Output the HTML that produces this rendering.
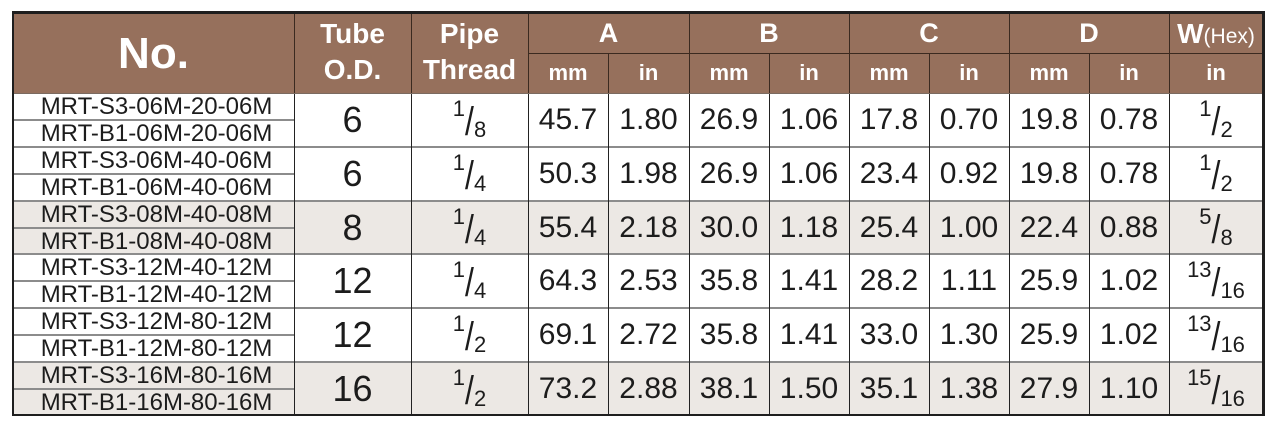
<!DOCTYPE html>
<html><head><meta charset="utf-8">
<style>
html,body{margin:0;padding:0;background:#fff;}
body{width:1279px;height:433px;position:relative;overflow:hidden;font-family:"Liberation Sans",Arial,sans-serif;color:#1c1c1c;}
.hd{position:absolute;left:13px;top:12px;width:1250px;height:81px;background:#96705c;}
.shade{position:absolute;left:13px;width:1250px;background:#ece8e4;}
.h{position:absolute;color:#fff;font-weight:bold;text-align:center;white-space:nowrap;}
.row{position:absolute;left:0;width:1279px;}
.c{position:absolute;top:0;height:100%;text-align:center;white-space:nowrap;font-size:30px;}
.tb{font-size:36px;}
.pn{position:absolute;left:13px;width:281px;height:27px;line-height:27px;font-size:24px;text-align:center;padding-left:6px;box-sizing:border-box;white-space:nowrap;}
.fr{display:flex;justify-content:center;align-items:flex-start;line-height:normal;}
.fr span{display:block;}
.fr .n{font-size:22px;line-height:22px;margin-top:5px;}
.fr .s{font-size:32px;line-height:32px;margin-top:12px;margin-left:0px;margin-right:0px;transform:scaleY(1.25);transform-origin:50% 50%;}
.fr .d{font-size:22px;line-height:22px;margin-top:26px;}
.v{position:absolute;width:1px;background:#222;}
.vh{position:absolute;width:1px;background:#3b2a20;}
.hl{position:absolute;height:2px;background:#8c8c8c;}
</style></head><body>

<div class="hd"></div>
<div class="shade" style="top:201px;height:53px;"></div>
<div class="shade" style="top:362px;height:53px;"></div>

<!-- header text -->
<div class="h" style="left:13px;width:281px;top:14px;height:79px;line-height:79px;font-size:44px;">No.</div>
<div class="h" style="left:294px;width:117px;top:16px;line-height:36px;font-size:28px;">Tube<br>O.D.</div>
<div class="h" style="left:411px;width:117px;top:16px;line-height:36px;font-size:28px;">Pipe<br>Thread</div>
<div class="h" style="left:528px;width:161px;top:14px;height:39px;line-height:39px;font-size:27px;">A</div>
<div class="h" style="left:689px;width:160px;top:14px;height:39px;line-height:39px;font-size:27px;">B</div>
<div class="h" style="left:849px;width:160px;top:14px;height:39px;line-height:39px;font-size:27px;">C</div>
<div class="h" style="left:1009px;width:160px;top:14px;height:39px;line-height:39px;font-size:27px;">D</div>
<div class="h" style="left:1169px;width:94px;top:14px;height:39px;line-height:39px;font-size:28px;">W<span style="font-weight:normal;font-size:21px;">(Hex)</span></div>
<div class="h" style="left:528px;width:80px;top:53px;height:40px;line-height:40px;font-size:22px;">mm</div>
<div class="h" style="left:608px;width:81px;top:53px;height:40px;line-height:40px;font-size:22px;">in</div>
<div class="h" style="left:689px;width:80px;top:53px;height:40px;line-height:40px;font-size:22px;">mm</div>
<div class="h" style="left:769px;width:80px;top:53px;height:40px;line-height:40px;font-size:22px;">in</div>
<div class="h" style="left:849px;width:80px;top:53px;height:40px;line-height:40px;font-size:22px;">mm</div>
<div class="h" style="left:929px;width:80px;top:53px;height:40px;line-height:40px;font-size:22px;">in</div>
<div class="h" style="left:1009px;width:80px;top:53px;height:40px;line-height:40px;font-size:22px;">mm</div>
<div class="h" style="left:1089px;width:80px;top:53px;height:40px;line-height:40px;font-size:22px;">in</div>
<div class="h" style="left:1169px;width:94px;top:53px;height:40px;line-height:40px;font-size:22px;">in</div>

<!-- row 1 -->
<div class="row" style="top:93px;height:54px;line-height:54px;">
<div class="pn" style="top:0">MRT-S3-06M-20-06M</div><div class="pn" style="top:27px">MRT-B1-06M-20-06M</div>
<div class="c tb" style="left:294px;width:117px">6</div>
<div class="c fr" style="left:411px;width:117px"><span class="n">1</span><span class="s">/</span><span class="d">8</span></div>
<div class="c" style="left:528px;width:80px">45.7</div><div class="c" style="left:608px;width:81px">1.80</div>
<div class="c" style="left:689px;width:80px">26.9</div><div class="c" style="left:769px;width:80px">1.06</div>
<div class="c" style="left:849px;width:80px">17.8</div><div class="c" style="left:929px;width:80px">0.70</div>
<div class="c" style="left:1009px;width:80px">19.8</div><div class="c" style="left:1089px;width:80px">0.78</div>
<div class="c fr" style="left:1169px;width:94px"><span class="n">1</span><span class="s">/</span><span class="d">2</span></div>
</div>
<!-- row 2 -->
<div class="row" style="top:147px;height:54px;line-height:54px;">
<div class="pn" style="top:0">MRT-S3-06M-40-06M</div><div class="pn" style="top:27px">MRT-B1-06M-40-06M</div>
<div class="c tb" style="left:294px;width:117px">6</div>
<div class="c fr" style="left:411px;width:117px"><span class="n">1</span><span class="s">/</span><span class="d">4</span></div>
<div class="c" style="left:528px;width:80px">50.3</div><div class="c" style="left:608px;width:81px">1.98</div>
<div class="c" style="left:689px;width:80px">26.9</div><div class="c" style="left:769px;width:80px">1.06</div>
<div class="c" style="left:849px;width:80px">23.4</div><div class="c" style="left:929px;width:80px">0.92</div>
<div class="c" style="left:1009px;width:80px">19.8</div><div class="c" style="left:1089px;width:80px">0.78</div>
<div class="c fr" style="left:1169px;width:94px"><span class="n">1</span><span class="s">/</span><span class="d">2</span></div>
</div>
<!-- row 3 -->
<div class="row" style="top:201px;height:54px;line-height:54px;">
<div class="pn" style="top:0">MRT-S3-08M-40-08M</div><div class="pn" style="top:27px">MRT-B1-08M-40-08M</div>
<div class="c tb" style="left:294px;width:117px">8</div>
<div class="c fr" style="left:411px;width:117px"><span class="n">1</span><span class="s">/</span><span class="d">4</span></div>
<div class="c" style="left:528px;width:80px">55.4</div><div class="c" style="left:608px;width:81px">2.18</div>
<div class="c" style="left:689px;width:80px">30.0</div><div class="c" style="left:769px;width:80px">1.18</div>
<div class="c" style="left:849px;width:80px">25.4</div><div class="c" style="left:929px;width:80px">1.00</div>
<div class="c" style="left:1009px;width:80px">22.4</div><div class="c" style="left:1089px;width:80px">0.88</div>
<div class="c fr" style="left:1169px;width:94px"><span class="n">5</span><span class="s">/</span><span class="d">8</span></div>
</div>
<!-- row 4 -->
<div class="row" style="top:254px;height:54px;line-height:54px;">
<div class="pn" style="top:0">MRT-S3-12M-40-12M</div><div class="pn" style="top:27px">MRT-B1-12M-40-12M</div>
<div class="c tb" style="left:294px;width:117px">12</div>
<div class="c fr" style="left:411px;width:117px"><span class="n">1</span><span class="s">/</span><span class="d">4</span></div>
<div class="c" style="left:528px;width:80px">64.3</div><div class="c" style="left:608px;width:81px">2.53</div>
<div class="c" style="left:689px;width:80px">35.8</div><div class="c" style="left:769px;width:80px">1.41</div>
<div class="c" style="left:849px;width:80px">28.2</div><div class="c" style="left:929px;width:80px">1.11</div>
<div class="c" style="left:1009px;width:80px">25.9</div><div class="c" style="left:1089px;width:80px">1.02</div>
<div class="c fr" style="left:1169px;width:94px"><span class="n">13</span><span class="s">/</span><span class="d">16</span></div>
</div>
<!-- row 5 -->
<div class="row" style="top:308px;height:54px;line-height:54px;">
<div class="pn" style="top:0">MRT-S3-12M-80-12M</div><div class="pn" style="top:27px">MRT-B1-12M-80-12M</div>
<div class="c tb" style="left:294px;width:117px">12</div>
<div class="c fr" style="left:411px;width:117px"><span class="n">1</span><span class="s">/</span><span class="d">2</span></div>
<div class="c" style="left:528px;width:80px">69.1</div><div class="c" style="left:608px;width:81px">2.72</div>
<div class="c" style="left:689px;width:80px">35.8</div><div class="c" style="left:769px;width:80px">1.41</div>
<div class="c" style="left:849px;width:80px">33.0</div><div class="c" style="left:929px;width:80px">1.30</div>
<div class="c" style="left:1009px;width:80px">25.9</div><div class="c" style="left:1089px;width:80px">1.02</div>
<div class="c fr" style="left:1169px;width:94px"><span class="n">13</span><span class="s">/</span><span class="d">16</span></div>
</div>
<!-- row 6 -->
<div class="row" style="top:362px;height:54px;line-height:54px;">
<div class="pn" style="top:0">MRT-S3-16M-80-16M</div><div class="pn" style="top:27px">MRT-B1-16M-80-16M</div>
<div class="c tb" style="left:294px;width:117px">16</div>
<div class="c fr" style="left:411px;width:117px"><span class="n">1</span><span class="s">/</span><span class="d">2</span></div>
<div class="c" style="left:528px;width:80px">73.2</div><div class="c" style="left:608px;width:81px">2.88</div>
<div class="c" style="left:689px;width:80px">38.1</div><div class="c" style="left:769px;width:80px">1.50</div>
<div class="c" style="left:849px;width:80px">35.1</div><div class="c" style="left:929px;width:80px">1.38</div>
<div class="c" style="left:1009px;width:80px">27.9</div><div class="c" style="left:1089px;width:80px">1.10</div>
<div class="c fr" style="left:1169px;width:94px"><span class="n">15</span><span class="s">/</span><span class="d">16</span></div>
</div>

<!-- header grid lines -->
<div class="vh" style="left:294px;top:12px;height:81px"></div>
<div class="vh" style="left:411px;top:12px;height:81px"></div>
<div class="vh" style="left:528px;top:12px;height:81px"></div>
<div class="vh" style="left:689px;top:12px;height:81px"></div>
<div class="vh" style="left:849px;top:12px;height:81px"></div>
<div class="vh" style="left:1009px;top:12px;height:81px"></div>
<div class="vh" style="left:1169px;top:12px;height:81px"></div>
<div class="vh" style="left:608px;top:53px;height:40px"></div>
<div class="vh" style="left:769px;top:53px;height:40px"></div>
<div class="vh" style="left:929px;top:53px;height:40px"></div>
<div class="vh" style="left:1089px;top:53px;height:40px"></div>
<div style="position:absolute;left:528px;top:53px;width:735px;height:1px;background:#3b2a20"></div>
<div style="position:absolute;left:13px;top:93px;width:1250px;height:1px;background:#7a6a60"></div>

<!-- body horizontal lines -->
<div class="hl" style="left:13px;top:146px;width:1250px"></div>
<div class="hl" style="left:13px;top:200px;width:1250px"></div>
<div class="hl" style="left:13px;top:253px;width:1250px"></div>
<div class="hl" style="left:13px;top:307px;width:1250px"></div>
<div class="hl" style="left:13px;top:361px;width:1250px"></div>
<div class="hl" style="left:13px;top:119px;width:281px"></div>
<div class="hl" style="left:13px;top:173px;width:281px"></div>
<div class="hl" style="left:13px;top:227px;width:281px"></div>
<div class="hl" style="left:13px;top:280px;width:281px"></div>
<div class="hl" style="left:13px;top:334px;width:281px"></div>
<div class="hl" style="left:13px;top:388px;width:281px"></div>

<!-- body vertical lines -->
<div class="v" style="left:294px;top:94px;height:321px"></div>
<div class="v" style="left:411px;top:94px;height:321px"></div>
<div class="v" style="left:528px;top:94px;height:321px"></div>
<div class="v" style="left:608px;top:94px;height:321px"></div>
<div class="v" style="left:689px;top:94px;height:321px"></div>
<div class="v" style="left:769px;top:94px;height:321px"></div>
<div class="v" style="left:849px;top:94px;height:321px"></div>
<div class="v" style="left:929px;top:94px;height:321px"></div>
<div class="v" style="left:1009px;top:94px;height:321px"></div>
<div class="v" style="left:1089px;top:94px;height:321px"></div>
<div class="v" style="left:1169px;top:94px;height:321px"></div>

<!-- outer border -->
<div style="position:absolute;left:12px;top:11px;width:1253px;height:3px;background:#1e1e1e"></div>
<div style="position:absolute;left:12px;top:414px;width:1253px;height:2px;background:#1e1e1e"></div>
<div style="position:absolute;left:12px;top:11px;width:2px;height:405px;background:#1e1e1e"></div>
<div style="position:absolute;left:1262px;top:11px;width:3px;height:405px;background:#1e1e1e"></div>

</body></html>
